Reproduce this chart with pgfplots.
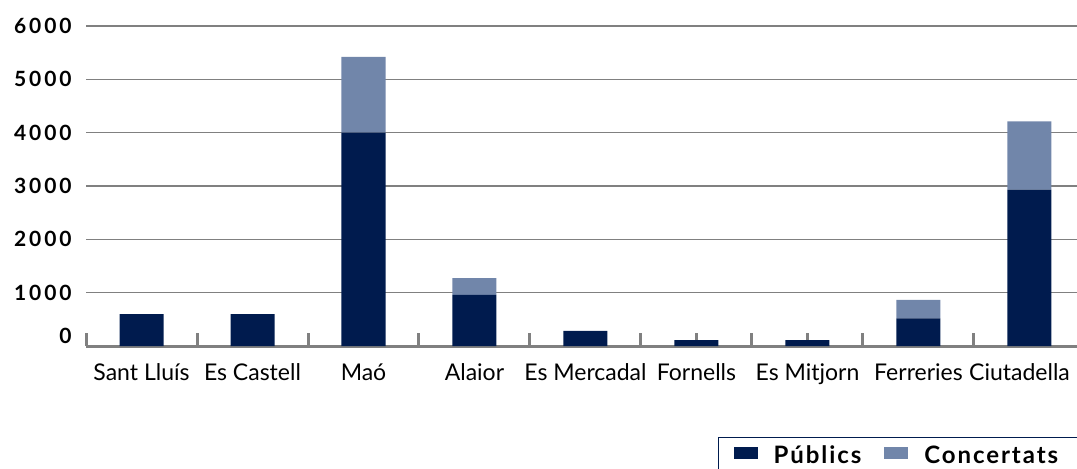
\documentclass[border=0pt]{standalone}
\usepackage{fontspec}
\setmainfont{Lato}
\newfontfamily\ylabfont{Lato}[LetterSpace=14]
\newfontfamily\legfont{Lato}[LetterSpace=8]
\usepackage{pgfplots}
\pgfplotsset{compat=1.18}
\definecolor{navy}{RGB}{0,27,78}
\definecolor{lightb}{RGB}{113,134,170}
\definecolor{gridg}{RGB}{128,128,128}
\begin{document}
\begin{tikzpicture}
\useasboundingbox (0,0) rectangle (538.5pt,234pt);
\clip (0,0) rectangle (538.5pt,234pt);
\begin{axis}[
  at={(43pt,61pt)}, anchor=south west,
  scale only axis, width=499.5pt, height=160pt,
  xmin=-0.5, xmax=8.5, ymin=0, ymax=6000,
  ybar stacked, bar width=22pt,
  axis x line*=bottom, axis y line*=left,
  x axis line style={draw=gridg, line width=1.5pt, -},
  y axis line style={draw=none},
  xtick={-0.5,0.5,1.5,2.5,3.5,4.5,5.5,6.5,7.5},
  xticklabels={,,,,,,,,},
  xtick style={draw=gridg, line width=1.5pt},
  extra x ticks={0,1,2,3,4,5,6,7,8},
  extra x tick labels={Sant Lluís,Es Castell,Maó,Alaior,Es Mercadal,Fornells,Es Mitjorn,Ferreries,Ciutadella\hspace*{10pt}},
  extra x tick style={tick style={draw=none}},
  xtick align=inside, major tick length=6.5pt,
  xticklabel style={font=\fontsize{11.5}{13}\selectfont, anchor=base, yshift=-17pt, inner sep=0pt},
  ytick={1000,2000,3000,4000,5000,6000},
  yticklabels={1000,2000,3000,4000,5000,6000},
  ytick style={draw=none},
  extra y ticks={0}, extra y tick labels={0},
  extra y tick style={grid=none, yticklabel style={yshift=5pt}},
  yticklabel style={font=\fontsize{10.5}{12}\ylabfont\bfseries, anchor=east, inner sep=0pt, xshift=-7pt},
  ymajorgrids, grid style={draw=gridg, line width=0.75pt},
  legend columns=2,
  legend image code/.code={\fill[#1] (0pt,-1.5pt) rectangle (12pt,4.5pt);},
  legend style={at={(0.6326,-0.284)}, anchor=north west, draw=navy, line width=0.75pt,
    font=\fontsize{12}{14}\legfont\bfseries,
    inner xsep=7.5pt, inner ysep=2pt,
    nodes={inner xsep=0pt},
    /tikz/every odd column/.append style={column sep=8pt},
    /tikz/every even column/.append style={column sep=11.5pt},
    legend cell align=left},
]
\addplot[fill=navy, draw=none] coordinates {(0,600) (1,600) (2,4000) (3,960) (4,285) (5,110) (6,110) (7,520) (8,2930)};
\addplot[fill=lightb, draw=none] coordinates {(0,0) (1,0) (2,1420) (3,315) (4,0) (5,0) (6,0) (7,345) (8,1280)};
\legend{Públics, Concertats\hspace*{12pt}}
\end{axis}
\end{tikzpicture}
\end{document}
